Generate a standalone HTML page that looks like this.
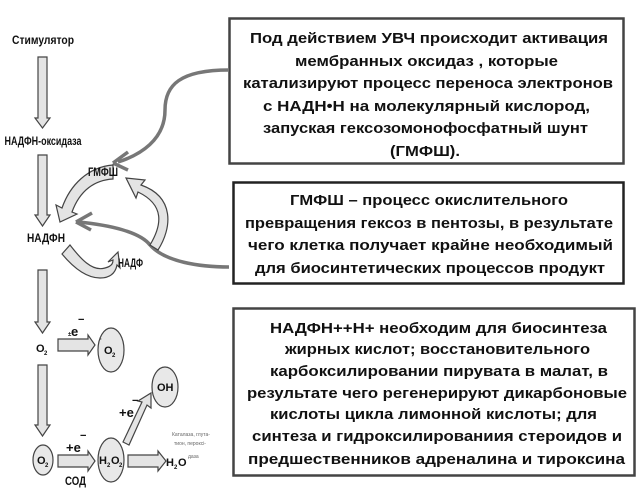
<!DOCTYPE html>
<html><head><meta charset="utf-8"><style>
html,body{margin:0;padding:0;background:#fff;}
svg{display:block;}
.b{font-family:"Liberation Sans",sans-serif;font-weight:bold;font-size:15px;fill:#111;}
.s{font-family:"Liberation Sans",sans-serif;font-weight:bold;font-size:11.5px;fill:#111;}
.ar{fill:#e4e4e4;stroke:#444;stroke-width:1.2;}
</style></head><body>
<svg width="641" height="501" viewBox="0 0 641 501" xmlns="http://www.w3.org/2000/svg">
<rect x="229.5" y="18.5" width="394" height="145" fill="#fff" stroke="#444" stroke-width="2.5"/>
<rect x="233.5" y="182.5" width="390" height="101" fill="#fff" stroke="#222" stroke-width="2.5"/>
<rect x="233.5" y="308.5" width="401" height="167" fill="#fff" stroke="#444" stroke-width="2.5"/>
<g class="b">
<text x="250" y="43" textLength="358" lengthAdjust="spacingAndGlyphs">Под действием УВЧ происходит активация</text>
<text x="295" y="66" textLength="263" lengthAdjust="spacingAndGlyphs">мембранных оксидаз , которые</text>
<text x="243" y="88" textLength="370" lengthAdjust="spacingAndGlyphs">катализируют процесс переноса электронов</text>
<text x="263" y="111" textLength="327" lengthAdjust="spacingAndGlyphs">с НАДН•Н на молекулярный кислород,</text>
<text x="263" y="133" textLength="325" lengthAdjust="spacingAndGlyphs">запуская  гексозомонофосфатный шунт</text>
<text x="390" y="156" textLength="70" lengthAdjust="spacingAndGlyphs">(ГМФШ).</text>
<text x="290" y="205" textLength="278" lengthAdjust="spacingAndGlyphs">ГМФШ – процесс окислительного</text>
<text x="245" y="228" textLength="368" lengthAdjust="spacingAndGlyphs">превращения гексоз в пентозы, в результате</text>
<text x="248" y="250" textLength="365" lengthAdjust="spacingAndGlyphs">чего клетка получает крайне необходимый</text>
<text x="255" y="273" textLength="350" lengthAdjust="spacingAndGlyphs">для биосинтетических процессов продукт</text>
<text x="270" y="333" textLength="337" lengthAdjust="spacingAndGlyphs">НАДФН++Н+ необходим для биосинтеза</text>
<text x="285" y="354" textLength="305" lengthAdjust="spacingAndGlyphs">жирных кислот; восстановительного</text>
<text x="270" y="376" textLength="338" lengthAdjust="spacingAndGlyphs">карбоксилировании пирувата в малат, в</text>
<text x="247" y="398" textLength="380" lengthAdjust="spacingAndGlyphs">результате чего регенерируют дикарбоновые</text>
<text x="270" y="419" textLength="327" lengthAdjust="spacingAndGlyphs">кислоты цикла лимонной кислоты; для</text>
<text x="252" y="441" textLength="370" lengthAdjust="spacingAndGlyphs">синтеза и гидроксилированиия стероидов и</text>
<text x="248" y="464" textLength="377" lengthAdjust="spacingAndGlyphs">предшественников адреналина и тироксина</text>
</g>
<path d="M229,70 C180,70 165,85 165,110 C165,140 140,155 118,162" fill="none" stroke="#777" stroke-width="3.5"/>
<path d="M113,163 L128,152 M113,163 L128,170" fill="none" stroke="#777" stroke-width="3.5"/>
<path d="M229,267 C200,267 165,262 150,245 C140,232 110,225 78,222" fill="none" stroke="#777" stroke-width="3.5"/>
<path d="M76,222 L92,213 M76,222 L91,230" fill="none" stroke="#777" stroke-width="3.5"/>
<path class="ar" d="M38,57 H47 V118 H50 L42.5,128 L35,118 H38 Z"/>
<path class="ar" d="M38,155 H47 V215 H50 L42.5,226 L35,215 H38 Z"/>
<path class="ar" d="M38,270 H47 V322 H50 L42.5,333 L35,322 H38 Z"/>
<path class="ar" d="M38,365 H47 V425 H50 L42.5,436 L35,425 H38 Z"/>
<path class="ar" d="M113,165 L113,179 C95,180 80,190 72,212 L77,214 L60,222 L56,205 L62,208 C70,185 88,167 113,165 Z"/>
<path class="ar" d="M150,245 C162,225 165,205 138,192 L136,198 L126,178 L145,180 L141,185 C175,197 172,228 158,250 Z"/>
<path class="ar" d="M62,254 L70,245 C80,258 92,272 105,268 C113,266 113,262 113,260 L108,262 L118,252 L120,268 L117,265 C115,275 108,278 100,278 C85,278 72,266 62,254 Z"/>
<path class="ar" d="M58,339 H88 V335 L95,345 L88,355 V351 H58 Z"/>
<path class="ar" d="M58,455 H88 V451 L95,461 L88,471 V467 H58 Z"/>
<path class="ar" d="M128,455 H158 V451 L166,461 L158,471 V467 H128 Z"/>
<path class="ar" d="M123,442 L142,402 L138,401 L151,393 L151,408 L147,405 L129,445 Z"/>
<ellipse cx="111" cy="350" rx="13" ry="22" fill="#e8e8e8" stroke="#444" stroke-width="1.2"/>
<ellipse cx="43" cy="460" rx="10" ry="15" fill="#e8e8e8" stroke="#444" stroke-width="1.2"/>
<ellipse cx="111" cy="460" rx="13" ry="22" fill="#e8e8e8" stroke="#444" stroke-width="1.2"/>
<ellipse cx="165" cy="387" rx="13" ry="20" fill="#e8e8e8" stroke="#444" stroke-width="1.2"/>
<g class="s">
<text x="43" y="44" text-anchor="middle" textLength="62" lengthAdjust="spacingAndGlyphs">Стимулятор</text>
<text x="43" y="145" text-anchor="middle" textLength="77" lengthAdjust="spacingAndGlyphs">НАДФН-оксидаза</text>
<text x="88" y="176" textLength="30" lengthAdjust="spacingAndGlyphs">ГМФШ</text>
<text x="27" y="242" textLength="38" lengthAdjust="spacingAndGlyphs">НАДФН</text>
<text x="118" y="267" textLength="25" lengthAdjust="spacingAndGlyphs">НАДФ</text>
<text x="36" y="352" font-size="11">O</text><text x="44" y="355" font-size="6">2</text>
<text x="104" y="354" font-size="11">O</text><text x="112" y="357" font-size="6">2</text>
<text x="100" y="341" font-size="6">·</text>
<text x="68" y="336" font-size="6">±</text>
<text x="71" y="336" font-size="13">e</text>
<text x="78" y="323" font-size="11">−</text>
<text x="37" y="464" font-size="11">O</text><text x="45" y="467" font-size="6">2</text>
<text x="66" y="452" font-size="13">+e</text>
<text x="80" y="439" font-size="11">−</text>
<text x="65" y="485" font-size="12" textLength="21" lengthAdjust="spacingAndGlyphs">СОД</text>
<text x="99" y="464" font-size="11">H</text><text x="107" y="467" font-size="6">2</text>
<text x="111" y="464" font-size="11">O</text><text x="119" y="467" font-size="6">2</text>
<text x="157" y="391" font-size="11">OH</text>
<text x="119" y="417" font-size="13">+e</text>
<text x="132" y="404" font-size="11">−</text>
<text x="166" y="466" font-size="11">H</text><text x="174" y="469" font-size="6">2</text>
<text x="178" y="466" font-size="11">O</text>
</g>
<g font-family="Liberation Sans,sans-serif" font-size="5" fill="#666">
<text x="172" y="436">Каталаза, глута-</text>
<text x="174" y="445">тион, пероксi-</text>
<text x="188" y="458">даза</text>
</g>
</svg>
</body></html>
